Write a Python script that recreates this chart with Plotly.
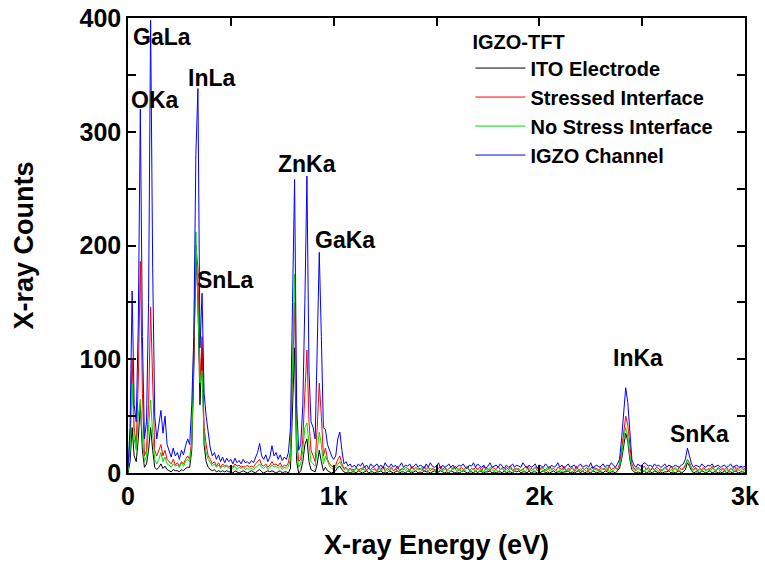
import plotly.graph_objects as go

# ---------------- data ----------------
energy_eV = list(range(0, 3001, 10))  # detector channels, 10 eV each

series_names = ["ITO Electrode", "Stressed Interface", "No Stress Interface", "IGZO Channel"]
series_colors = ["#000000", "#ff0000", "#00dd00", "#0000ff"]

ito_counts = [
    0, 10, 40, 15, 10, 30, 60, 20, 5, 8,
    20, 40, 20, 5, 3, 5, 8, 4, 6, 3,
    2, 1, 3, 2, 2, 1, 3, 2, 4, 5,
    5, 20, 90, 200, 150, 60, 110, 25, 10, 5,
    3, 2, 3, 1, 2, 1, 2, 1, 2, 1,
    1, 0, 2, 1, 0, 1, 2, 1, 0, 1,
    2, 1, 0, 2, 3, 1, 0, 1, 2, 1,
    2, 1, 0, 1, 2, 0, 1, 1, 0, 4,
    60, 110, 10, 0, 2, 10, 25, 30, 10, 3,
    2, 1, 8, 20, 10, 2, 5, 2, 1, 0,
    1, 2, 5, 6, 3, 1, 0, 1, 0, 1,
    1, 0, 2, 1, 0, 1, 2, 0, 1, 1,
    0, 1, 1, 2, 0, 1, 0, 2, 1, 0,
    1, 2, 0, 1, 1, 0, 2, 1, 0, 1,
    2, 0, 1, 0, 2, 1, 1, 0, 1, 2,
    0, 1, 2, 1, 0, 1, 0, 2, 1, 0,
    1, 0, 1, 2, 1, 0, 1, 1, 0, 2,
    0, 2, 1, 0, 1, 1, 2, 0, 1, 0,
    1, 1, 0, 2, 0, 1, 1, 0, 2, 1,
    2, 0, 1, 1, 0, 2, 0, 1, 1, 0,
    0, 1, 2, 0, 1, 0, 1, 2, 0, 1,
    1, 0, 1, 1, 2, 0, 1, 0, 1, 2,
    0, 2, 0, 1, 1, 0, 2, 1, 0, 1,
    1, 0, 2, 1, 0, 1, 1, 0, 2, 4,
    12, 25, 35, 28, 12, 3, 1, 0, 1, 0,
    1, 2, 0, 1, 1, 0, 2, 1, 0, 1,
    0, 1, 1, 2, 0, 1, 0, 1, 2, 0,
    1, 3, 9, 6, 2, 0, 1, 1, 0, 2,
    1, 0, 1, 2, 0, 1, 1, 0, 1, 0,
    2, 0, 1, 1, 0, 2, 1, 0, 1, 1,
    0,
]

stressed_counts = [
    3, 30, 100, 40, 25, 80, 186, 70, 15, 20,
    60, 146, 80, 20, 15, 20, 25, 15, 20, 12,
    10, 8, 12, 7, 9, 6, 10, 8, 12, 15,
    12, 30, 100, 200, 180, 80, 120, 40, 25, 15,
    12, 8, 10, 6, 9, 5, 8, 6, 7, 5,
    7, 5, 8, 6, 7, 5, 6, 5, 7, 5,
    6, 5, 8, 10, 12, 7, 6, 8, 5, 7,
    10, 7, 8, 6, 9, 5, 7, 6, 9, 20,
    90, 150, 30, 10, 12, 30, 70, 108, 45, 20,
    15, 10, 40, 79, 50, 15, 22, 12, 8, 6,
    5, 7, 12, 15, 8, 4, 5, 3, 4, 3,
    3, 5, 2, 4, 3, 6, 2, 4, 3, 5,
    4, 2, 5, 3, 6, 2, 4, 3, 5, 2,
    3, 6, 2, 4, 3, 5, 4, 2, 6, 3,
    5, 3, 4, 2, 6, 3, 5, 2, 4, 3,
    2, 4, 6, 3, 5, 2, 4, 5, 3, 6,
    4, 2, 5, 3, 4, 6, 2, 4, 3, 5,
    3, 5, 2, 6, 3, 4, 2, 5, 4, 3,
    6, 3, 4, 2, 5, 3, 6, 2, 4, 3,
    4, 2, 3, 5, 6, 2, 4, 3, 5, 2,
    3, 5, 4, 2, 3, 6, 3, 4, 2, 5,
    4, 3, 6, 2, 4, 3, 5, 2, 6, 3,
    2, 4, 3, 5, 2, 4, 6, 3, 4, 2,
    5, 3, 4, 2, 6, 3, 4, 5, 3, 8,
    20, 38, 50, 42, 22, 8, 4, 3, 5, 3,
    4, 6, 3, 5, 2, 4, 3, 5, 4, 2,
    3, 5, 4, 2, 6, 3, 4, 2, 5, 3,
    4, 7, 12, 9, 4, 3, 5, 2, 4, 3,
    5, 2, 4, 3, 6, 3, 2, 5, 3, 4,
    3, 5, 2, 4, 3, 6, 2, 4, 5, 3,
    4,
]

nostress_counts = [
    2, 20, 79, 30, 20, 50, 65, 30, 10, 15,
    40, 64, 35, 12, 8, 12, 18, 10, 14, 8,
    7, 5, 8, 6, 7, 5, 9, 6, 10, 12,
    10, 25, 120, 212, 150, 79, 90, 30, 18, 12,
    9, 6, 8, 5, 7, 4, 6, 5, 6, 4,
    5, 4, 6, 3, 5, 4, 5, 3, 4, 3,
    4, 3, 5, 6, 8, 5, 4, 6, 3, 5,
    7, 5, 6, 4, 6, 3, 5, 4, 6, 12,
    100, 175, 20, 5, 8, 20, 40, 44, 25, 10,
    8, 6, 20, 36, 25, 8, 15, 10, 6, 4,
    3, 5, 8, 10, 6, 3, 4, 2, 3, 2,
    2, 4, 3, 1, 5, 2, 3, 4, 2, 3,
    3, 1, 4, 2, 3, 5, 2, 1, 4, 2,
    4, 2, 1, 3, 5, 2, 4, 3, 1, 3,
    2, 4, 3, 5, 1, 3, 2, 4, 3, 2,
    3, 1, 4, 2, 3, 4, 2, 1, 5, 3,
    2, 4, 1, 3, 2, 5, 3, 2, 4, 1,
    4, 2, 3, 1, 4, 2, 5, 3, 2, 3,
    1, 3, 5, 2, 3, 1, 4, 2, 3, 4,
    3, 2, 4, 1, 3, 5, 2, 3, 1, 4,
    2, 4, 1, 3, 5, 2, 3, 4, 2, 1,
    3, 1, 4, 2, 3, 2, 5, 1, 3, 2,
    4, 2, 3, 1, 4, 3, 2, 5, 2, 3,
    2, 4, 3, 5, 1, 3, 2, 4, 3, 6,
    15, 30, 40, 32, 15, 5, 3, 2, 4, 2,
    3, 1, 4, 2, 3, 5, 2, 3, 1, 4,
    2, 4, 3, 1, 3, 2, 5, 3, 2, 3,
    3, 6, 12, 8, 3, 2, 4, 1, 3, 2,
    4, 2, 3, 1, 4, 3, 2, 4, 1, 3,
    2, 3, 1, 4, 2, 3, 5, 2, 3, 1,
    3,
]

channel_counts = [
    5, 40, 160, 60, 45, 130, 320, 120, 30, 45,
    150, 398, 180, 50, 30, 45, 55, 35, 50, 25,
    20, 14, 22, 15, 18, 12, 20, 16, 24, 30,
    25, 60, 120, 280, 338, 110, 158, 70, 50, 35,
    22, 15, 18, 12, 16, 10, 14, 9, 13, 10,
    12, 8, 13, 9, 11, 8, 12, 9, 10, 8,
    11, 9, 14, 18, 26, 15, 12, 16, 10, 14,
    24, 15, 18, 12, 16, 11, 14, 12, 18, 40,
    150, 258, 60, 20, 25, 60, 150, 261, 90, 45,
    40, 30, 110, 194, 120, 40, 38, 25, 20, 15,
    12, 15, 30, 36, 20, 8, 10, 6, 8, 5,
    7, 5, 8, 6, 9, 5, 7, 4, 8, 6,
    6, 8, 5, 7, 4, 9, 6, 5, 8, 5,
    7, 4, 6, 9, 5, 7, 6, 8, 4, 6,
    8, 5, 7, 6, 4, 8, 5, 9, 6, 5,
    6, 9, 4, 7, 5, 6, 8, 5, 7, 4,
    5, 7, 6, 8, 5, 4, 7, 6, 9, 5,
    8, 6, 5, 7, 4, 6, 9, 5, 6, 7,
    5, 8, 6, 4, 7, 5, 6, 8, 5, 7,
    6, 5, 9, 6, 4, 7, 5, 6, 8, 4,
    7, 6, 5, 8, 6, 4, 7, 5, 6, 9,
    5, 7, 4, 6, 8, 5, 6, 7, 4, 6,
    8, 5, 6, 7, 5, 9, 4, 6, 7, 5,
    6, 8, 5, 7, 6, 9, 7, 5, 8, 12,
    30, 55, 75, 62, 35, 12, 7, 5, 8, 6,
    7, 9, 8, 6, 7, 5, 8, 6, 7, 5,
    6, 8, 5, 7, 6, 5, 7, 6, 5, 7,
    8, 12, 22, 15, 8, 5, 7, 6, 5, 8,
    6, 5, 7, 6, 8, 5, 6, 7, 5, 6,
    7, 5, 6, 8, 5, 6, 7, 5, 6, 5,
    6,
]

peak_labels = ["GaLa", "OKa", "InLa", "SnLa", "ZnKa", "GaKa", "InKa", "SnKa"]
peak_label_energy = [165, 131, 408, 472, 870, 1055, 2479, 2781]
peak_label_counts = [383, 328, 347, 170, 272, 205, 101, 34]

x_tick_values = [0, 1000, 2000, 3000]
x_tick_labels = ["0", "1k", "2k", "3k"]
y_tick_values = [0, 100, 200, 300, 400]

# ---------------- figure ----------------
FONT = "Liberation Sans, Arial, sans-serif"
all_counts = [ito_counts, stressed_counts, nostress_counts, channel_counts]

fig = go.Figure()
for name, color, counts in zip(series_names, series_colors, all_counts):
    assert len(counts) == len(energy_eV)
    fig.add_trace(go.Scatter(
        x=energy_eV, y=counts, mode="lines", name=name,
        line=dict(color=color, width=1), legendgroup=name,
    ))

for lab, ex, cy in zip(peak_labels, peak_label_energy, peak_label_counts):
    fig.add_annotation(x=ex, y=cy, text=lab, showarrow=False,
                       font=dict(family=FONT, size=23, color="black", weight="bold"))

axis_common = dict(
    showline=True, linecolor="black", linewidth=1.5, mirror="allticks",
    ticks="inside", ticklen=8, tickwidth=1.5, tickcolor="black",
    showgrid=False, zeroline=False, automargin=False,
    tickfont=dict(family=FONT, size=25, color="black", weight="bold"),
)

fig.update_xaxes(
    range=[0, 3000], tickvals=x_tick_values, ticktext=x_tick_labels,
    minor=dict(ticks="inside", dtick=500, ticklen=8, tickwidth=1.5, tickcolor="black"),
    title=dict(text="X-ray Energy (eV)", standoff=26,
               font=dict(family=FONT, size=27, color="black", weight="bold")),
    **axis_common,
)
fig.update_yaxes(
    range=[0, 400], tickvals=y_tick_values,
    minor=dict(ticks="inside", dtick=50, ticklen=8, tickwidth=1.5, tickcolor="black"),
    title=dict(text="X-ray Counts", standoff=38,
               font=dict(family=FONT, size=27, color="black", weight="bold")),
    **axis_common,
)

fig.update_layout(
    width=765, height=567,
    margin=dict(l=128, r=20, t=18, b=94),
    plot_bgcolor="white", paper_bgcolor="white",
    showlegend=True,
    legend=dict(
        title=dict(text="IGZO-TFT", font=dict(family=FONT, size=20, color="black", weight="bold")),
        font=dict(family=FONT, size=20, color="black", weight="bold"),
        x=0.555, y=0.99, xanchor="left", yanchor="top",
        bgcolor="rgba(0,0,0,0)", tracegroupgap=0, itemwidth=50,
    ),
)

fig.write_html("out.html")
